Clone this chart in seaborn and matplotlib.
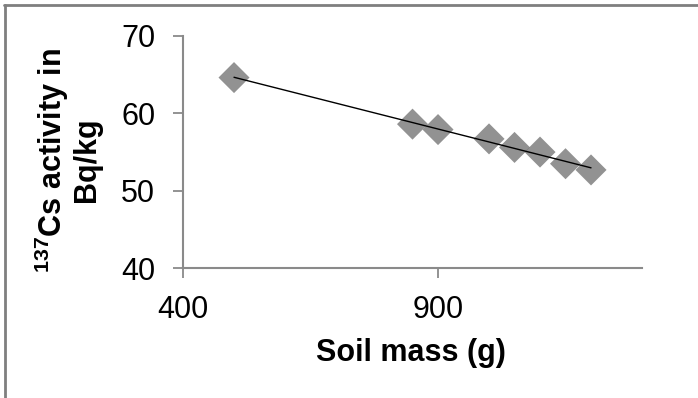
import matplotlib
matplotlib.use("Agg")
import matplotlib.pyplot as plt
import seaborn as sns
import pandas as pd
from matplotlib.lines import Line2D

# Data
soil_mass = [500, 850, 900, 1000, 1050, 1100, 1150, 1200]
activity = [64.6, 58.6, 57.9, 56.7, 55.6, 55.0, 53.5, 52.7]

df = pd.DataFrame({"soil_mass": soil_mass, "activity": activity})

sns.set_style("white")
plt.rcParams["font.family"] = ["Liberation Sans", "DejaVu Sans"]
plt.rcParams["mathtext.fontset"] = "custom"
plt.rcParams["mathtext.rm"] = "Liberation Sans"
plt.rcParams["mathtext.bf"] = "Liberation Sans:bold"
plt.rcParams["text.color"] = "black"
plt.rcParams["axes.labelcolor"] = "black"

fig = plt.figure(figsize=(6.98, 3.98), dpi=100)
ax = fig.add_axes([0.2622, 0.3254, 0.6576, 0.585])

sns.regplot(x="soil_mass", y="activity", data=df, ax=ax, ci=None,
            marker="D",
            scatter_kws={"s": 250, "color": "#777777", "edgecolor": "none", "zorder": 2},
            line_kws={"color": "black", "linewidth": 1.0, "zorder": 3})

ax.set_xlim(400, 1300)
ax.set_ylim(40, 70)
ax.set_xticks([400, 900])
ax.set_yticks([40, 50, 60, 70])

grey = "#8a8a8a"
for side in ["top", "right"]:
    ax.spines[side].set_visible(False)
for side in ["left", "bottom"]:
    ax.spines[side].set_color(grey)
    ax.spines[side].set_linewidth(1.5)
ax.tick_params(axis="both", direction="out", length=7, width=1.3, color=grey,
               labelsize=22, labelcolor="black", left=True, bottom=True)
ax.tick_params(axis="y", pad=13)
ax.tick_params(axis="x", pad=12)

ax.set_xlabel("Soil mass (g)", fontsize=22, fontweight="bold")
ax.set_ylabel("$^{\\mathbf{137}}$Cs activity in\nBq/kg", fontsize=22,
              fontweight="bold", linespacing=1.05)
ax.xaxis.set_label_coords(0.496, -0.30)
ax.yaxis.set_label_coords(-0.176, 0.466)

# outer chart border (top and left only visible)
fig.add_artist(Line2D([0.006, 1.0], [0.988, 0.988], transform=fig.transFigure,
                      color="#7f7f7f", linewidth=2))
fig.add_artist(Line2D([0.0072, 0.0072], [0.0, 0.988], transform=fig.transFigure,
                      color="#7f7f7f", linewidth=2))

fig.savefig("out.png", dpi=100)
